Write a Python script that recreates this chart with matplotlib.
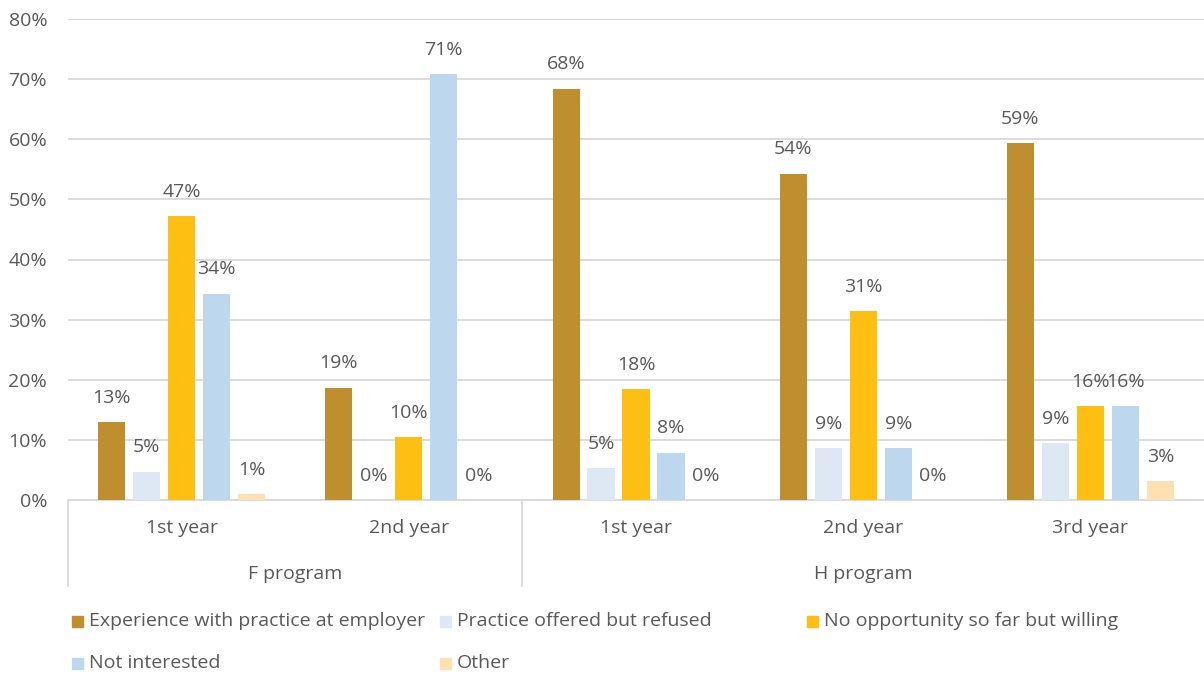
import matplotlib
matplotlib.use("Agg")
import matplotlib.pyplot as plt
from matplotlib.lines import Line2D
from matplotlib.patches import Rectangle
from matplotlib.transforms import blended_transform_factory
import numpy as np

plt.rcParams["font.family"] = ["Open Sans", "DejaVu Sans"]

programs = ["F program", "H program"]
years = ["1st year", "2nd year", "1st year", "2nd year", "3rd year"]
group_program = [0, 0, 1, 1, 1]

series_names = [
    "Experience with practice at employer",
    "Practice offered but refused",
    "No opportunity so far but willing",
    "Not interested",
    "Other",
]
experience = [12.9, 18.7, 68.4, 54.3, 59.4]
offered_refused = [4.7, 0.0, 5.3, 8.6, 9.4]
no_opportunity = [47.2, 10.4, 18.4, 31.4, 15.6]
not_interested = [34.3, 70.8, 7.9, 8.6, 15.6]
other = [1.0, 0.0, 0.0, 0.0, 3.1]
series_values = [experience, offered_refused, no_opportunity, not_interested, other]
colors = ["#BF8F2F", "#DEE7F4", "#FDBF12", "#BDD7EE", "#FFE0B3"]

TEXT = "#595959"
GRID = "#D9D9D9"
FS = 14

fig = plt.figure(figsize=(12.04, 6.75), dpi=100)
ax = fig.add_axes([68 / 1204, 1 - 500 / 675, 1 - 68 / 1204, 481 / 675])

x = np.arange(len(years))
pitch = 0.154
width = 0.119
for i, (vals, col) in enumerate(zip(series_values, colors)):
    pos = x + (i - 2) * pitch
    bars = ax.bar(pos, vals, width=width, color=col, zorder=3)
    for b, v in zip(bars, vals):
        ax.annotate(f"{v:.0f}%", (b.get_x() + b.get_width() / 2, v),
                    xytext=(0, 17.5), textcoords="offset points",
                    ha="center", va="center", fontsize=FS, color=TEXT)

ax.set_xlim(-0.5, len(years) - 0.5)
ax.set_ylim(0, 80)
ax.set_yticks(np.arange(0, 81, 10))
ax.set_yticklabels([f"{t}%" for t in range(0, 81, 10)])
ax.tick_params(axis="y", length=0, pad=15, labelsize=FS, labelcolor=TEXT)
ax.set_xticks([])
ax.grid(axis="y", color=GRID, linewidth=1.3, zorder=0)
for s in ["top", "right", "left"]:
    ax.spines[s].set_visible(False)
ax.spines["bottom"].set_color(GRID)
ax.spines["bottom"].set_linewidth(1.3)

# two-level category axis
trans = blended_transform_factory(ax.transData, ax.transAxes)
for xi, lab in zip(x, years):
    ax.annotate(lab, (xi, 0), xycoords=trans, xytext=(0, -20),
                textcoords="offset points", ha="center", va="center",
                fontsize=FS, color=TEXT)
for p, name in enumerate(programs):
    members = [xi for xi, g in zip(x, group_program) if g == p]
    ax.annotate(name, (np.mean(members), 0), xycoords=trans, xytext=(0, -53),
                textcoords="offset points", ha="center", va="center",
                fontsize=FS, color=TEXT)

sep_bottom = 1 - 586 / 675
axis_bottom = 1 - 500 / 675
boundaries = [-0.5, 1.5]
for bx in boundaries:
    fx = fig.transFigure.inverted().transform(ax.transData.transform((bx, 0)))[0]
    fig.add_artist(Line2D([fx, fx], [axis_bottom, sep_bottom],
                          transform=fig.transFigure, color=GRID, linewidth=1.3))

# legend laid out in rows of three
col_x = [72, 440, 807]
row_y = [621, 663]
for i, (name, col) in enumerate(zip(series_names, colors)):
    r, c = divmod(i, 3)
    px, py = col_x[c], row_y[r]
    fig.add_artist(Rectangle((px / 1204, 1 - (py + 5.5) / 675), 11 / 1204, 11 / 675,
                             transform=fig.transFigure, color=col))
    fig.text((px + 17) / 1204, 1 - py / 675, name, ha="left", va="center",
             fontsize=FS, color=TEXT)

fig.savefig("out.png", dpi=100)
